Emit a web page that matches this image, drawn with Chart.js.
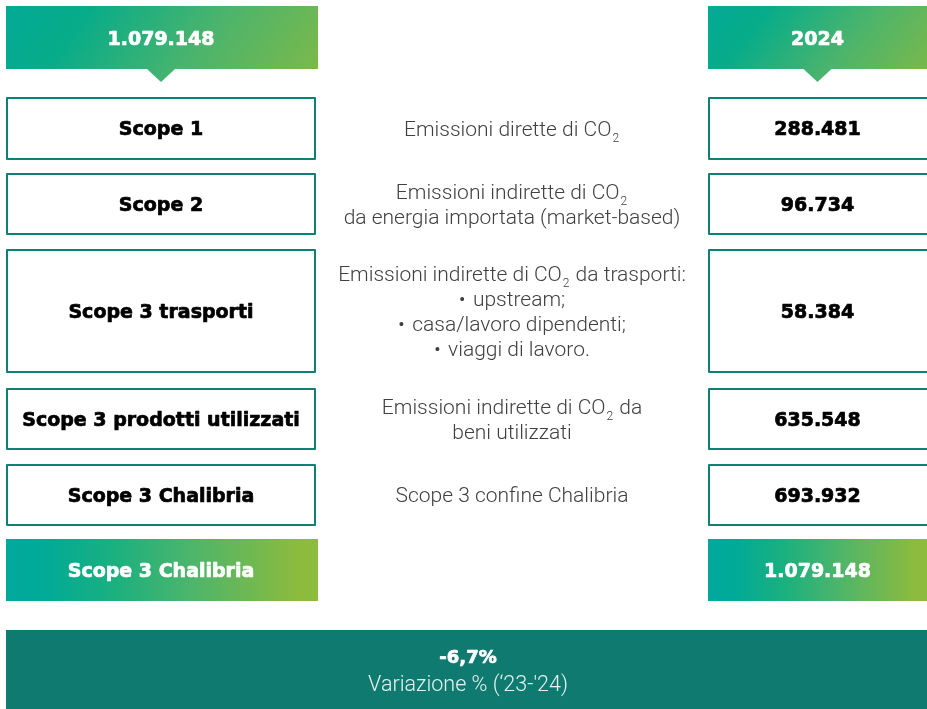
<!DOCTYPE html>
<html>
<head>
<meta charset="utf-8">
<script src="https://cdn.jsdelivr.net/npm/chart.js@4/dist/chart.umd.min.js"></script>
<style>
html,body{margin:0;padding:0;background:#ffffff;}
#wrap{width:927px;height:709px;position:relative;}
</style>
</head>
<body>
<div id="wrap"><canvas id="c"></canvas></div>
<script>
// ---- DATA ----
const scopeLabels = ['Scope 1', 'Scope 2', 'Scope 3 trasporti', 'Scope 3 prodotti utilizzati', 'Scope 3 Chalibria'];
const scopeDescriptions = [
  ['Emissioni dirette di CO_2'],
  ['Emissioni indirette di CO_2', 'da energia importata (market-based)'],
  ['Emissioni indirette di CO_2 da trasporti:', '\u2022 \u200Aupstream;', '\u2022 \u200Acasa/lavoro dipendenti;', '\u2022 \u200Aviaggi di lavoro.'],
  ['Emissioni indirette di CO_2 da', 'beni utilizzati'],
  ['Scope 3 confine Chalibria']
];
const scopeValues2024 = [288481, 96734, 58384, 635548, 693932];
const totalLabel = 'Scope 3 Chalibria';
const totalValue2024 = 1079148;
const headerValue = 1079148;
const headerYear = '2024';
const variationPct = -6.7;
const variationLabel = 'Variazione % (\u201823-\'24)';

// ---- LAYOUT (design units, mapped through the chart scales) ----
const layout = {
  header: [6, 69],
  rowTops: [97, 173, 249, 388, 464, 539],
  rowBottoms: [160, 235, 373, 450, 526, 601],
  leftCol: [6, 316],
  midCol: [316, 708],
  rightCol: [708, 927],
  banner: [630, 709],
  bannerX: [6, 927],
  bannerTextX: 468,
  arrowHalf: 14,
  arrowDepth: 13,
  lineGap: 25
};
const colors = {
  teal: '#00a99c',
  green: '#8dbb3d',
  border: '#0f8174',
  banner: '#0f7b70',
  label: '#000000',
  desc: '#404040'
};
const fonts = {
  bold: '700 19px "DejaVu Sans", sans-serif',
  desc: '300 21px Roboto, sans-serif',
  sub: '300 12px Roboto, sans-serif',
  bannerBold: '700 18px "DejaVu Sans", sans-serif',
  bannerText: '300 21.5px Roboto, sans-serif'
};

function fmt(n) {
  const s = Math.abs(n).toString().replace('.', ',');
  const parts = s.split(',');
  parts[0] = parts[0].replace(/\B(?=(\d{3})+(?!\d))/g, '.');
  return (n < 0 ? '-' : '') + parts.join(',');
}

function richSegments(line) {
  const segs = [];
  const re = /_(\d)/g;
  let last = 0, m;
  while ((m = re.exec(line)) !== null) {
    if (m.index > last) segs.push({t: line.slice(last, m.index), sub: false});
    segs.push({t: m[1], sub: true});
    last = re.lastIndex;
  }
  if (last < line.length) segs.push({t: line.slice(last), sub: false});
  return segs;
}

function drawRich(ctx, line, cx, cy, color) {
  const segs = richSegments(line);
  let total = 0;
  segs.forEach(s => { ctx.font = s.sub ? fonts.sub : fonts.desc; s.w = ctx.measureText(s.t).width + (s.sub ? 2 : 0); total += s.w; });
  let x = cx - total / 2;
  ctx.fillStyle = color;
  ctx.textAlign = 'left';
  ctx.textBaseline = 'middle';
  segs.forEach(s => {
    ctx.font = s.sub ? fonts.sub : fonts.desc;
    ctx.fillText(s.t, x + (s.sub ? 1 : 0), s.sub ? cy + 8 : cy);
    x += s.w;
  });
}

function centerText(ctx, text, cx, cy, font, color, heavy) {
  ctx.font = font;
  ctx.fillStyle = color;
  ctx.textAlign = 'center';
  ctx.textBaseline = 'middle';
  ctx.fillText(text, cx, cy);
  if (heavy) {
    ctx.strokeStyle = color;
    ctx.lineWidth = 0.7;
    ctx.lineJoin = 'round';
    ctx.strokeText(text, cx, cy);
  }
}

const infographic = {
  id: 'infographic',
  afterDraw(chart) {
    const ctx = chart.ctx;
    const xs = chart.scales.x, ys = chart.scales.y;
    const X = v => xs.getPixelForValue(v);
    const Y = v => ys.getPixelForValue(v);
    ctx.save();

    // headers with arrow
    function header(col, text) {
      const x0 = X(col[0]), x1 = X(col[1]);
      const y0 = Y(layout.header[0]), y1 = Y(layout.header[1]);
      const cx = (x0 + x1) / 2;
      const g = ctx.createLinearGradient(x0, y0 - (x1 - x0) * 0.25, x1, y1 + (x1 - x0) * 0.25);
      g.addColorStop(0, colors.teal);
      g.addColorStop(0.3, '#07ac8a');
      g.addColorStop(0.6, '#4bb46c');
      g.addColorStop(1, colors.green);
      ctx.fillStyle = g;
      ctx.beginPath();
      ctx.moveTo(x0, y0); ctx.lineTo(x1 + 2, y0); ctx.lineTo(x1 + 2, y1);
      ctx.lineTo(cx + layout.arrowHalf, y1);
      ctx.lineTo(cx, y1 + layout.arrowDepth);
      ctx.lineTo(cx - layout.arrowHalf, y1);
      ctx.lineTo(x0, y1); ctx.closePath();
      ctx.fill();
      centerText(ctx, text, cx, (y0 + y1) / 2 + 3, fonts.bold, '#ffffff', true);
    }
    header(layout.leftCol, fmt(headerValue));
    header(layout.rightCol, headerYear);

    // bordered rows
    function box(col, top, bottom, openRight) {
      const x0 = X(col[0]), x1 = X(col[1]) + (openRight ? 4 : 0);
      const y0 = Y(top), y1 = Y(bottom);
      ctx.lineWidth = 2;
      ctx.strokeStyle = colors.border;
      ctx.strokeRect(x0 + 1, y0 + 1, x1 - x0 - 2, y1 - y0 - 2);
    }
    scopeLabels.forEach((lab, i) => {
      const top = layout.rowTops[i], bottom = layout.rowBottoms[i];
      box(layout.leftCol, top, bottom, false);
      box(layout.rightCol, top, bottom, true);
      const cy = (Y(top) + Y(bottom)) / 2;
      centerText(ctx, lab, (X(layout.leftCol[0]) + X(layout.leftCol[1])) / 2, cy + 2, fonts.bold, colors.label, true);
      centerText(ctx, fmt(scopeValues2024[i]), (X(layout.rightCol[0]) + X(layout.rightCol[1])) / 2, cy + 2, fonts.bold, colors.label, true);
      const lines = scopeDescriptions[i];
      const mcx = (X(layout.midCol[0]) + X(layout.midCol[1])) / 2;
      lines.forEach((ln, k) => {
        const ly = cy + 2 + (k - (lines.length - 1) / 2) * layout.lineGap;
        drawRich(ctx, ln, mcx, ly, colors.desc);
      });
    });

    // total row (gradient)
    function gradBox(col, top, bottom, text) {
      const x0 = X(col[0]), x1 = X(col[1]);
      const y0 = Y(top), y1 = Y(bottom);
      const g = ctx.createLinearGradient(x0, 0, x1, 0);
      g.addColorStop(0, colors.teal);
      g.addColorStop(0.12, '#00aa98');
      g.addColorStop(0.35, '#1bb07f');
      g.addColorStop(0.6, '#4db56b');
      g.addColorStop(0.95, colors.green);
      g.addColorStop(1, colors.green);
      ctx.fillStyle = g;
      ctx.fillRect(x0, y0, x1 - x0 + 2, y1 - y0);
      centerText(ctx, text, (x0 + x1) / 2, (y0 + y1) / 2 + 2, fonts.bold, '#ffffff', true);
    }
    const last = scopeLabels.length;
    gradBox(layout.leftCol, layout.rowTops[last], layout.rowBottoms[last], totalLabel);
    gradBox(layout.rightCol, layout.rowTops[last], layout.rowBottoms[last], fmt(totalValue2024));

    // banner
    const bx0 = X(layout.bannerX[0]), bx1 = X(layout.bannerX[1]);
    const by0 = Y(layout.banner[0]), by1 = Y(layout.banner[1]);
    ctx.fillStyle = colors.banner;
    ctx.fillRect(bx0, by0, bx1 - bx0 + 2, by1 - by0 + 2);
    const bcx = X(layout.bannerTextX);
    centerText(ctx, fmt(variationPct) + '%', bcx, by0 + 28, fonts.bannerBold, '#ffffff', true);
    centerText(ctx, variationLabel, bcx, by0 + 56, fonts.bannerText, '#e6f2f0', false);

    ctx.restore();
  }
};

new Chart(document.getElementById('c'), {
  type: 'bar',
  data: { labels: scopeLabels, datasets: [] },
  options: {
    responsive: true,
    maintainAspectRatio: false,
    animation: false,
    layout: { padding: 0 },
    plugins: { legend: { display: false }, tooltip: { enabled: false } },
    scales: {
      x: { type: 'linear', display: false, offset: false, min: 0, max: 927 },
      y: { type: 'linear', display: false, offset: false, min: 0, max: 709, reverse: true }
    }
  },
  plugins: [infographic]
});
</script>
</body>
</html>
